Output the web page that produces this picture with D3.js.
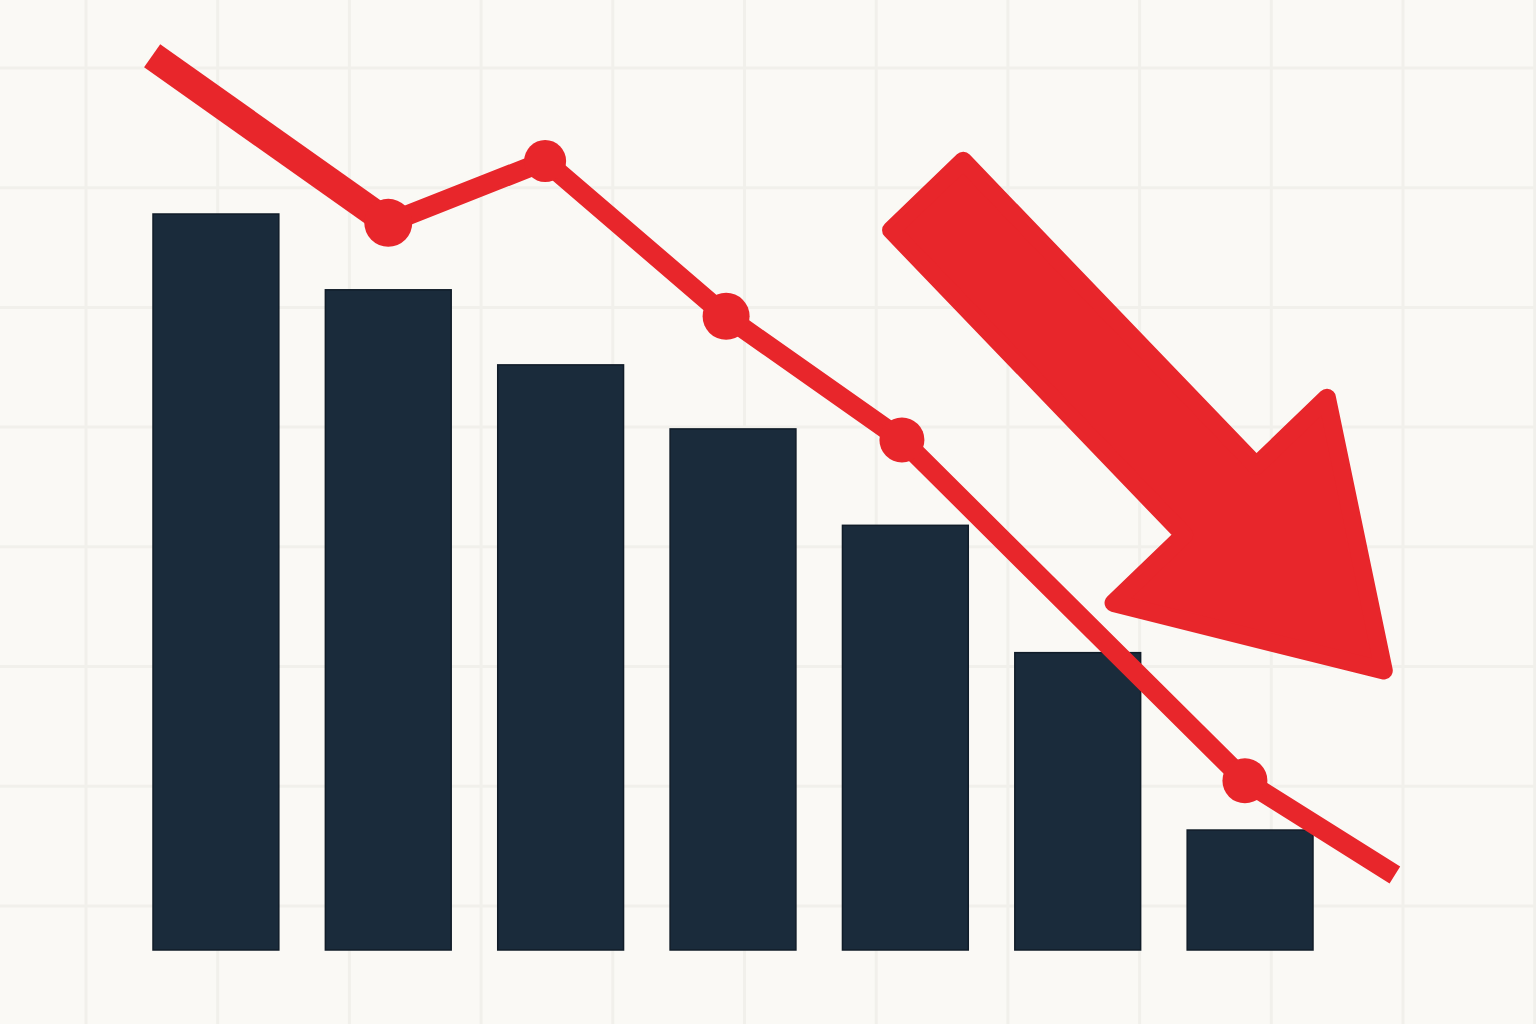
<!DOCTYPE html>
<html>
<head>
<meta charset="utf-8">
<script src="https://cdn.jsdelivr.net/npm/d3@7"></script>
<style>
  html, body { margin: 0; padding: 0; background: #faf9f5; }
  svg { display: block; }
</style>
</head>
<body>
<div class="chart"></div>
<script>
// bars: seven periods, values on a 0-100 index (first bar = 100)
const categories = ["P1", "P2", "P3", "P4", "P5", "P6", "P7"];
const barValues = [100, 89.7, 79.5, 70.8, 57.7, 40.4, 16.3];

// trend line: position in category units (0 = first bar centre) and value
const lineIndex = [-0.37, 1.0, 1.91, 2.96, 3.98, 5.97, 6.84];
const lineValues = [121.5, 98.8, 107.2, 86.1, 69.3, 23.0, 10.2];
const markerFlags = [false, true, true, true, true, true, false];

// big "down" arrow, from tail centre to tip, same units as the line
const arrowIndex = [4.09, 6.84];
const arrowValues = [103.4, 36.4];

const width = 1536, height = 1024;
const red = "#e8262b", navy = "#1a2b3b";

const svg = d3.select("div.chart").append("svg")
    .attr("width", width)
    .attr("height", height);

svg.append("rect")
    .attr("width", width)
    .attr("height", height)
    .attr("fill", "#faf9f5");

// background grid (decorative)
const grid = svg.append("g").attr("stroke", "#f1f0eb").attr("stroke-width", 3);
grid.selectAll("line.v")
  .data(d3.range(86, width, 131.7))
  .enter().append("line")
    .attr("class", "v")
    .attr("x1", d => d).attr("x2", d => d)
    .attr("y1", 0).attr("y2", height);
grid.selectAll("line.h")
  .data(d3.range(68, height, 119.7))
  .enter().append("line")
    .attr("class", "h")
    .attr("y1", d => d).attr("y2", d => d)
    .attr("x1", 0).attr("x2", width);

const x = d3.scaleBand()
    .domain(categories)
    .range([153, 1313])
    .paddingInner(0.27)
    .paddingOuter(0);

const y = d3.scaleLinear()
    .domain([0, 100])
    .range([950, 214]);

// category-unit scale for the line (index -> bar centre)
const xi = d3.scaleLinear()
    .domain([0, categories.length - 1])
    .range([x(categories[0]) + x.bandwidth() / 2,
            x(categories[categories.length - 1]) + x.bandwidth() / 2]);

svg.selectAll("rect.bar")
  .data(barValues)
  .enter().append("rect")
    .attr("class", "bar")
    .attr("x", (d, i) => x(categories[i]))
    .attr("y", d => y(d))
    .attr("width", x.bandwidth())
    .attr("height", d => y(0) - y(d))
    .attr("fill", navy)
    .attr("stroke", "#101c28")
    .attr("stroke-width", 1.5);

const pts = lineIndex.map((v, i) => [xi(v), y(lineValues[i])]);

const line = d3.line();

svg.append("path")
    .attr("d", line(pts.slice(1)))
    .attr("fill", "none")
    .attr("stroke", red)
    .attr("stroke-width", 20)
    .attr("stroke-linejoin", "round")
    .attr("stroke-linecap", "butt");

// first segment is drawn heavier
svg.append("path")
    .attr("d", line(pts.slice(0, 2)))
    .attr("fill", "none")
    .attr("stroke", red)
    .attr("stroke-width", 28)
    .attr("stroke-linecap", "butt");

const markerR = [24, 21, 23.5, 22.5, 22.5];
svg.selectAll("circle.marker")
  .data(pts.filter((p, i) => markerFlags[i]))
  .enter().append("circle")
    .attr("class", "marker")
    .attr("cx", d => d[0])
    .attr("cy", d => d[1])
    .attr("r", (d, i) => markerR[i])
    .attr("fill", red);

// arrow shape built along its own axis, then rotated into place
const tail = [xi(arrowIndex[0]), y(arrowValues[0])];
const tip = [xi(arrowIndex[1]), y(arrowValues[1])];
const dx = tip[0] - tail[0], dy = tip[1] - tail[1];
const len = Math.sqrt(dx * dx + dy * dy);
const angle = Math.atan2(dy, dx) * 180 / Math.PI;
const shaftHalf = 50, headHalf = 148, headLen = 244, inset = 9;
const neck = len - headLen - 8;
const arrowShape = [
  [inset, -shaftHalf], [neck, -shaftHalf], [neck, -headHalf],
  [len - 16, 0],
  [neck, headHalf], [neck, shaftHalf], [inset, shaftHalf]
];

svg.append("path")
    .attr("transform", `translate(${tail[0]},${tail[1]}) rotate(${angle})`)
    .attr("d", d3.line()(arrowShape) + "Z")
    .attr("fill", red)
    .attr("stroke", red)
    .attr("stroke-width", 18)
    .attr("stroke-linejoin", "round");
</script>
</body>
</html>
